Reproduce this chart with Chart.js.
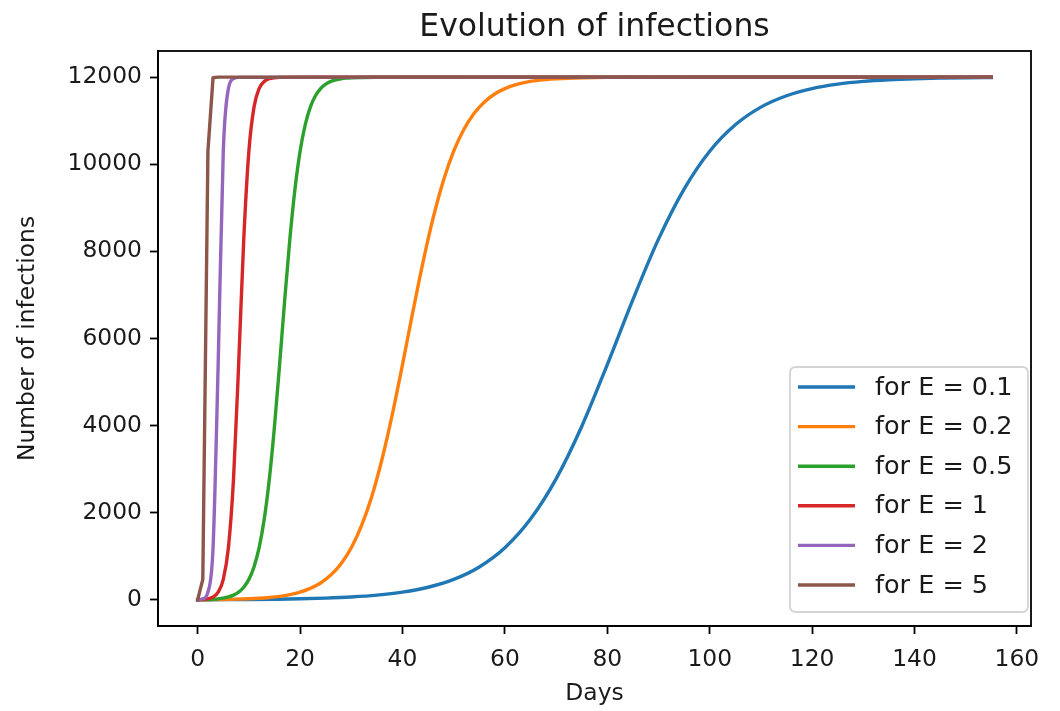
<!DOCTYPE html>
<html>
<head>
<meta charset="utf-8">
<script src="https://cdn.jsdelivr.net/npm/chart.js@4.4.1/dist/chart.umd.min.js"></script>
<style>
html,body{margin:0;padding:0;background:#ffffff;}
#wrap{width:1060px;height:711px;}
</style>
</head>
<body>
<div id="wrap"><canvas id="c" width="1060" height="711"></canvas></div>
<script>
// ---- texts ----
const chartTitle = 'Evolution of infections';
const xAxisTitle = 'Days';
const yAxisTitle = 'Number of infections';
const seriesLabels = ['for E = 0.1', 'for E = 0.2', 'for E = 0.5', 'for E = 1', 'for E = 2', 'for E = 5'];
const seriesColors = ['#1f77b4', '#ff7f0e', '#2ca02c', '#d62728', '#9467bd', '#8c564b'];

// ---- tick labels ----
const xTickValues = [0, 20, 40, 60, 80, 100, 120, 140, 160];
const yTickValues = [0, 2000, 4000, 6000, 8000, 10000, 12000];

// ---- series values ----
const daysE01 = [0,5,10,15,20,25,30,35,40,45,50,55,60,65,70,75,80,85,90,95,100,105,110,115,120,125,130,135,140,145,150,155];
const infE01  = [3,5,9,15,24,40,66,108,177,290,470,756,1197,1854,2778,3981,5402,6893,8281,9430,10300,10906,11312,11573,11737,11839,11902,11940,11964,11978,11987,11992];

const daysE02 = [0,2,4,6,8,10,12,14,16,18,20,22,24,26,28,30,32,34,36,38,40,42,44,46,48,50,52,54,56,58,60,62,64,66,68,70,75,80,155];
const infE02  = [3,5,7,11,16,24,36,54,80,120,177,263,388,569,830,1197,1702,2374,3228,4252,5402,6598,7748,8773,9627,10300,10803,11170,11431,11613,11737,11823,11881,11920,11946,11964,11987,11995,12000];

const daysE05 = [0,1,2,3,4,5,6,7,8,9,10,11,12,13,14,15,16,17,18,19,20,21,22,23,24,25,26,27,28,29,30,35,155];
const infE05  = [3,5,9,15,24,40,66,108,177,290,470,756,1197,1854,2778,3981,5402,6893,8281,9430,10300,10906,11312,11573,11737,11839,11902,11940,11964,11978,11987,11999,12000];

const daysE1 = [0,1,2,3,4,5,6,7,8,9,10,11,12,13,14,15,16,20,155];
const infE1  = [3,9,24,66,177,470,1197,2778,5402,8281,10300,11312,11737,11902,11964,11987,11995,12000,12000];

const daysE2 = [0,1,2,3,4,5,6,7,8,155];
const infE2  = [3,24,177,1197,5402,10300,11737,11964,11995,12000];

const daysE5 = [0,1,2,3,4,155];
const infE5  = [3,470,10300,11987,12000,12000];

const seriesDays = [daysE01, daysE02, daysE05, daysE1, daysE2, daysE5];
const seriesInf  = [infE01, infE02, infE05, infE1, infE2, infE5];
const smoothSeries = [true, true, true, true, true, false];

const FONT = "'DejaVu Sans', 'Liberation Sans', sans-serif";

const datasets = seriesLabels.map((lab, i) => ({
  label: lab,
  data: seriesDays[i].map((d, j) => ({x: d, y: seriesInf[i][j]})),
  borderColor: seriesColors[i],
  backgroundColor: seriesColors[i],
  borderWidth: 3.4,
  pointRadius: 0,
  pointHoverRadius: 0,
  fill: false,
  tension: 0,
  cubicInterpolationMode: smoothSeries[i] ? 'monotone' : 'default',
  borderCapStyle: 'square',
  borderJoinStyle: 'round',
  order: seriesLabels.length - i
}));

const overlayPlugin = {
  id: 'overlay',
  afterDraw(chart) {
    const ctx = chart.ctx;
    const a = chart.chartArea;
    ctx.save();
    // frame
    ctx.strokeStyle = '#000';
    ctx.lineWidth = 1.8;
    ctx.strokeRect(a.left, a.top, a.right - a.left, a.bottom - a.top);

    // title
    ctx.fillStyle = '#1a1a1a';
    ctx.font = '31.5px ' + FONT;
    ctx.textAlign = 'center';
    ctx.textBaseline = 'alphabetic';
    ctx.fillText(chartTitle, (a.left + a.right) / 2, 36);

    // x axis title
    ctx.font = '23.4px ' + FONT;
    ctx.fillText(xAxisTitle, (a.left + a.right) / 2, 700);

    // y axis title
    ctx.save();
    ctx.translate(28, (a.top + a.bottom) / 2);
    ctx.rotate(-Math.PI / 2);
    ctx.textBaseline = 'middle';
    ctx.fillText(yAxisTitle, 0, 0);
    ctx.restore();

    // legend
    const bx = 790, by = 367, bw = 238, bh = 245, r = 6;
    ctx.beginPath();
    ctx.moveTo(bx + r, by);
    ctx.lineTo(bx + bw - r, by);
    ctx.quadraticCurveTo(bx + bw, by, bx + bw, by + r);
    ctx.lineTo(bx + bw, by + bh - r);
    ctx.quadraticCurveTo(bx + bw, by + bh, bx + bw - r, by + bh);
    ctx.lineTo(bx + r, by + bh);
    ctx.quadraticCurveTo(bx, by + bh, bx, by + bh - r);
    ctx.lineTo(bx, by + r);
    ctx.quadraticCurveTo(bx, by, bx + r, by);
    ctx.closePath();
    ctx.fillStyle = 'rgba(255,255,255,0.8)';
    ctx.fill();
    ctx.strokeStyle = '#d4d4d4';
    ctx.lineWidth = 1.8;
    ctx.stroke();

    chart.data.datasets.forEach((ds, i) => {
      const y = 387 + i * 39.6;
      ctx.strokeStyle = ds.borderColor;
      ctx.lineWidth = 3.4;
      ctx.lineCap = 'butt';
      ctx.beginPath();
      ctx.moveTo(798, y);
      ctx.lineTo(855, y);
      ctx.stroke();
      ctx.fillStyle = '#1a1a1a';
      ctx.font = '25.5px ' + FONT;
      ctx.textAlign = 'left';
      ctx.textBaseline = 'middle';
      ctx.fillText(ds.label, 875, y + 1);
    });
    ctx.restore();
  }
};

new Chart(document.getElementById('c'), {
  type: 'line',
  data: { datasets },
  options: {
    responsive: false,
    animation: false,
    devicePixelRatio: 1,
    layout: { padding: { left: 0, top: 51, right: 29, bottom: 0 } },
    plugins: {
      legend: { display: false },
      title: { display: false },
      tooltip: { enabled: false }
    },
    scales: {
      x: {
        type: 'linear',
        min: -7.75,
        max: 162.75,
        afterBuildTicks: s => { s.ticks = xTickValues.map(v => ({ value: v })); },
        afterFit: s => { s.height = 85; },
        grid: { drawOnChartArea: false, drawTicks: true, tickLength: 8, tickWidth: 1.8, tickColor: '#000' },
        border: { display: true, color: '#000', width: 1.8 },
        ticks: {
          font: { family: FONT, size: 23.4 },
          color: '#1a1a1a',
          padding: 12,
          maxRotation: 0,
          autoSkip: false,
          callback: v => String(v)
        }
      },
      y: {
        type: 'linear',
        min: -600,
        max: 12600,
        afterBuildTicks: s => { s.ticks = yTickValues.map(v => ({ value: v })); },
        afterFit: s => { s.width = 158; },
        grid: { drawOnChartArea: false, drawTicks: true, tickLength: 8, tickWidth: 1.8, tickColor: '#000' },
        border: { display: true, color: '#000', width: 1.8 },
        ticks: {
          font: { family: FONT, size: 23.4 },
          color: '#1a1a1a',
          padding: 8,
          autoSkip: false,
          callback: v => String(v)
        }
      }
    }
  },
  plugins: [overlayPlugin]
});
</script>
</body>
</html>
